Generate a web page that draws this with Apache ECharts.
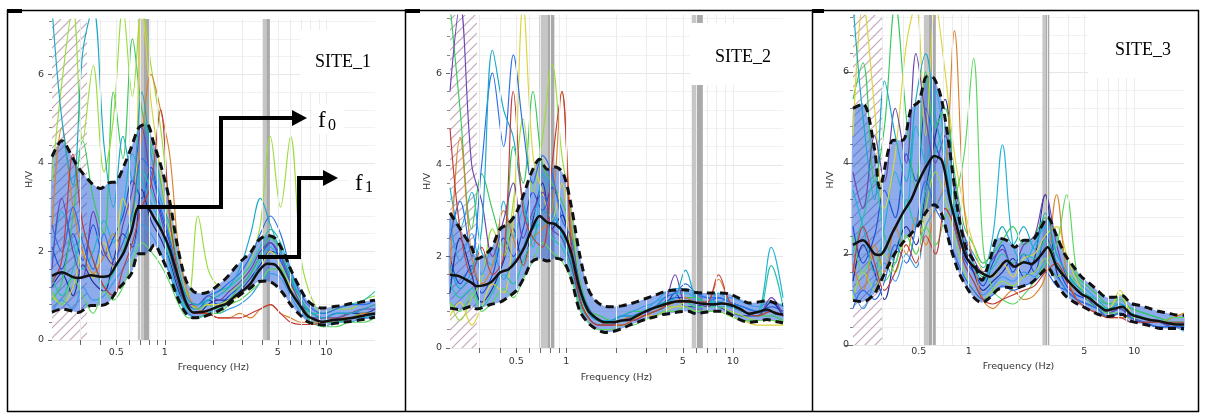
<!DOCTYPE html>
<html>
<head>
<meta charset="utf-8">
<script src="https://cdn.jsdelivr.net/npm/echarts@6/dist/echarts.min.js"></script>
<style>
  html, body { margin: 0; padding: 0; background: #fff; }
  #chart { width: 1205px; height: 414px; }
</style>
</head>
<body>
<div id="chart"></div>
<script>
// frequencies (Hz) for the mean and +/- std curves
const FREQ = [0.2,0.23,0.27,0.29,0.35,0.4,0.45,0.5,0.56,0.62,0.69,0.77,0.86,0.96,1.07,1.2,1.35,1.5,1.7,1.9,2.15,2.4,2.7,3.0,3.4,3.8,4.3,4.8,5.4,6.0,6.8,7.6,8.5,9.5,11,12.5,14,16,18,20];
// frequencies (Hz) for the single-window curves
const FW = [0.2,0.23,0.27,0.31,0.36,0.42,0.48,0.55,0.63,0.72,0.82,0.94,1.07,1.22,1.4,1.6,1.85,2.15,2.5,2.9,3.4,3.9,4.5,5.2,6,7,8.2,9.6,11.5,14,17,20];

const X_TICKS = [0.3,0.4,0.5,0.6,0.7,0.8,0.9,1,2,3,4,5,6,7,8,9,10];
const X_LABELS = [0.5,1,5,10];
const Y_LABELS = [0,2,4,6];
const GRID_F = [0.3,0.4,0.5,0.6,0.7,0.8,0.9,1,2,3,4,5,6,7,8,9,10];

// SITE_1
const site1Mean  = [1.45,1.53,1.42,1.4,1.46,1.43,1.45,1.7,2.0,2.45,3.0,3.0,2.75,2.45,2.05,1.45,0.85,0.62,0.63,0.68,0.76,0.82,0.98,1.1,1.28,1.55,1.72,1.7,1.45,1.1,0.8,0.55,0.46,0.41,0.45,0.47,0.49,0.53,0.57,0.6];
const site1Upper = [4.14,4.5,4.1,3.9,3.55,3.42,3.55,3.58,3.95,4.35,4.8,4.88,4.4,3.85,3.15,2.1,1.35,1.1,1.05,1.1,1.25,1.4,1.62,1.8,1.98,2.25,2.36,2.3,2.0,1.6,1.2,0.9,0.76,0.72,0.75,0.78,0.82,0.85,0.88,0.9];
const site1Lower = [0.63,0.7,0.65,0.62,0.78,0.78,0.85,1.1,1.3,1.5,1.95,1.95,2.15,1.85,1.45,0.95,0.6,0.5,0.52,0.58,0.66,0.76,0.92,1.05,1.18,1.32,1.33,1.25,1.05,0.8,0.58,0.42,0.36,0.34,0.37,0.4,0.42,0.45,0.48,0.52];
const site1Windows = [
  [2.1,1.6,2.4,1.8,2.6,1.9,2.3,2.8,3.6,3.2,3.9,2.9,2.2,1.3,0.8,0.7,0.9,0.8,1.0,1.2,1.5,1.9,2.2,1.8,1.3,0.8,0.6,0.5,0.6,0.6,0.7,0.8],
  [1.2,1.5,1.0,1.7,1.3,1.1,1.8,2.4,2.1,3.4,2.7,2.3,1.8,1.1,0.7,0.6,0.8,0.9,0.9,1.1,1.4,1.7,2.0,1.9,1.4,0.9,0.6,0.5,0.5,0.6,0.6,0.7],
  [1.8,2.9,2.2,1.6,2.0,2.7,2.2,3.0,4.2,3.6,3.1,2.6,1.7,1.0,0.6,0.5,0.6,0.8,0.9,1.0,1.3,1.8,2.1,1.7,1.1,0.7,0.5,0.4,0.4,0.5,0.5,0.6],
  [0.9,1.3,2.8,4.5,3.2,2.4,5.6,4.1,6.8,5.2,4.4,3.6,2.4,1.3,0.9,0.7,0.8,0.7,0.9,1.2,1.5,1.9,2.3,2.0,1.3,0.8,0.5,0.4,0.4,0.5,0.6,0.6],
  [3.6,5.8,7.5,4.5,6.2,3.8,5.0,7.5,5.5,7.5,6.2,4.8,3.0,1.6,1.0,2.8,1.6,1.2,1.1,1.3,1.8,2.6,4.6,3.0,4.6,1.8,0.9,0.6,0.7,0.7,0.9,1.0],
  [1.0,0.8,1.2,2.0,1.4,2.2,1.6,3.2,2.6,7.5,5.4,3.8,2.5,1.6,0.9,0.7,0.8,0.8,0.9,1.0,1.3,1.6,2.0,1.7,1.2,0.9,0.6,0.5,0.5,0.6,0.7,0.8],
  [2.5,4.8,3.0,2.0,1.5,1.9,2.4,2.0,3.0,4.6,6.0,5.2,4.2,2.0,1.0,0.7,0.6,0.5,0.5,0.6,0.5,0.7,0.8,0.6,0.5,0.4,0.4,0.4,0.5,0.5,0.6,0.6],
  [1.4,1.0,1.6,2.4,1.8,1.2,1.5,2.0,2.8,3.8,3.4,2.6,1.9,1.2,0.7,0.7,0.9,1.1,1.2,1.4,1.7,2.1,2.5,2.2,1.5,0.9,0.6,0.6,0.7,0.8,0.9,1.1],
  [0.6,0.9,0.7,1.2,0.9,1.0,1.3,1.6,2.0,2.6,2.4,2.0,1.5,0.9,0.6,0.5,0.6,0.6,0.7,0.8,1.0,1.3,1.5,1.4,1.0,0.6,0.4,0.3,0.4,0.4,0.5,0.5],
  [1.6,3.2,2.0,1.4,2.9,2.0,1.7,2.6,3.4,4.8,3.6,2.8,2.0,1.2,0.8,0.8,1.0,0.9,1.1,1.3,1.6,2.0,2.2,1.9,1.3,0.8,0.5,0.5,0.5,0.6,0.7,0.7],
  [1.1,0.8,1.4,1.0,0.6,1.1,0.9,1.2,1.8,2.2,2.0,1.7,1.3,0.8,0.5,0.5,0.6,0.6,0.8,0.9,1.1,1.3,1.6,1.6,1.1,0.7,0.4,0.3,0.3,0.4,0.4,0.5],
  [2.6,2.0,3.0,2.2,1.6,2.4,1.8,2.2,2.9,4.1,3.8,3.0,2.3,1.4,0.9,0.8,1.0,1.1,1.3,1.5,1.9,2.4,2.8,2.4,1.6,1.0,0.7,0.6,0.7,0.8,0.8,0.9],
  [7.5,5.0,3.5,6.5,7.5,4.4,3.0,4.6,3.6,5.6,4.2,3.2,2.6,1.6,0.9,0.8,0.9,1.0,1.2,1.6,2.4,3.2,2.6,2.0,1.4,0.9,0.6,0.5,0.6,0.6,0.7,0.8],
  [1.3,1.8,4.2,2.6,1.8,1.2,1.0,1.6,2.2,3.0,3.5,5.2,2.8,1.4,0.7,0.6,0.6,0.5,0.5,0.5,0.6,0.7,0.8,0.6,0.4,0.35,0.35,0.4,0.45,0.5,0.55,0.6]
];
const site1Bands = [[0.68,0.74],[0.74,0.81],[4.04,4.25],[4.25,4.47]];
const site1HatchTo = 0.33;

// SITE_2
const site2Mean  = [1.6,1.56,1.42,1.35,1.43,1.65,1.72,1.9,2.2,2.6,2.88,2.74,2.7,2.52,2.07,1.3,0.82,0.66,0.56,0.56,0.6,0.62,0.72,0.8,0.88,0.94,1.0,1.02,1.02,0.99,0.96,0.95,0.97,0.95,0.86,0.75,0.78,0.84,0.76,0.73];
const site2Upper = [2.95,2.6,2.2,1.95,2.15,2.6,2.72,2.95,3.4,3.85,4.12,3.9,3.95,3.8,3.1,2.05,1.3,1.03,0.91,0.9,0.92,0.96,1.02,1.08,1.15,1.22,1.26,1.27,1.26,1.21,1.2,1.2,1.2,1.18,1.08,0.98,1.0,1.03,0.98,0.95];
const site2Lower = [0.87,0.84,0.91,0.85,0.95,1.0,1.12,1.25,1.55,1.88,1.95,1.9,1.96,1.9,1.5,0.82,0.55,0.42,0.34,0.36,0.42,0.5,0.57,0.63,0.68,0.73,0.76,0.79,0.8,0.75,0.78,0.8,0.8,0.75,0.62,0.56,0.58,0.62,0.58,0.55];
const site2Windows = [
  [2.0,1.4,1.8,1.2,1.6,2.4,2.0,2.6,3.4,3.0,3.5,3.0,2.3,1.2,0.7,0.6,0.5,0.6,0.7,0.8,0.9,1.0,1.1,1.1,1.0,1.0,1.1,1.0,0.9,0.8,0.9,0.8],
  [1.2,2.4,1.6,1.0,1.3,1.9,2.6,1.8,2.8,3.6,2.6,2.9,1.9,1.0,0.6,0.5,0.5,0.6,0.6,0.7,0.8,0.9,1.2,0.9,0.9,1.0,0.9,0.8,0.7,0.7,1.0,0.7],
  [3.5,2.6,3.4,2.1,1.8,3.2,2.4,3.0,2.2,3.8,3.2,2.4,1.8,1.1,0.7,0.6,0.6,0.7,0.7,0.8,1.0,1.1,1.2,1.2,1.1,1.0,1.2,1.0,0.9,0.8,2.2,1.1],
  [7.5,5.2,2.6,3.8,3.0,2.2,4.4,3.6,5.6,4.0,3.6,3.2,2.6,1.4,0.8,0.7,0.6,0.7,0.8,0.8,0.9,1.0,1.0,1.1,1.1,1.0,1.0,0.9,0.8,0.7,0.7,0.6],
  [1.0,0.6,1.1,1.5,2.6,2.0,3.2,5.0,3.4,4.6,6.2,4.2,3.0,1.3,0.8,0.6,0.5,0.6,0.6,0.7,0.8,0.9,0.9,1.0,0.9,0.9,0.9,0.8,0.7,0.6,0.6,0.5],
  [0.7,1.0,0.5,0.9,1.4,1.2,2.8,7.5,4.2,3.4,2.8,3.6,2.0,1.1,0.6,0.5,0.5,0.5,0.6,0.7,0.7,0.8,0.9,0.9,0.8,0.8,0.8,0.7,0.6,0.5,0.5,0.5],
  [1.6,4.6,2.0,1.4,1.8,3.0,2.4,1.8,2.4,2.6,3.0,5.6,2.6,1.0,0.6,0.5,0.5,0.6,0.7,0.7,0.8,0.9,1.0,1.1,1.0,1.0,1.5,1.0,0.8,0.7,0.8,0.7],
  [1.4,1.1,1.3,0.9,1.2,1.6,1.4,1.9,2.4,2.8,2.4,2.2,1.7,0.9,0.6,0.5,0.5,0.6,0.6,0.7,0.8,0.9,1.0,1.0,0.9,0.9,0.9,0.9,0.8,0.7,1.8,0.9],
  [2.8,1.9,2.5,1.6,2.2,1.5,1.9,2.2,2.9,3.3,2.9,2.6,2.1,1.2,0.7,0.6,0.6,0.7,0.8,0.9,1.0,1.2,1.3,1.3,1.2,1.1,1.0,1.1,1.0,0.9,1.0,0.9],
  [5.6,7.5,4.0,3.2,2.0,2.8,3.6,2.4,3.0,3.4,2.6,2.4,1.8,1.0,0.6,0.5,0.5,0.6,0.6,0.7,0.9,1.0,1.6,1.0,1.0,0.9,1.0,0.9,0.8,0.7,1.1,0.7],
  [1.0,0.8,1.2,0.8,1.0,1.3,1.1,1.5,1.9,2.3,2.1,1.9,1.5,0.8,0.5,0.4,0.4,0.5,0.5,0.6,0.7,0.8,0.8,0.9,0.8,0.8,0.8,0.7,0.6,0.6,0.6,0.6],
  [2.4,3.2,2.0,4.0,6.0,4.4,6.4,4.8,3.6,4.2,3.8,2.8,2.4,1.3,0.8,0.6,0.6,0.7,0.7,0.8,0.9,1.1,1.2,1.4,1.2,1.1,1.1,1.0,0.9,0.8,0.8,0.7],
  [1.8,1.3,1.7,2.6,6.5,5.2,4.6,3.2,2.6,3.0,2.8,2.5,1.9,1.1,0.7,0.6,0.6,0.7,0.7,0.8,0.9,1.0,1.1,1.7,1.1,1.0,1.0,0.9,0.8,0.7,0.8,0.7],
  [4.8,2.6,1.6,2.2,1.6,2.0,5.6,3.0,2.4,2.2,4.0,5.6,2.2,1.0,0.6,0.5,0.5,0.5,0.6,0.7,0.8,0.9,1.0,1.0,1.0,1.0,1.6,1.0,0.8,0.7,0.8,0.7]
];
const site2Bands = [[0.687,0.77],[0.77,0.847],[5.66,6.07],[6.07,6.6]];
const site2HatchTo = 0.29;

// SITE_3
const site3Mean  = [2.2,2.3,2.0,1.98,2.5,2.9,3.2,3.6,3.95,4.15,4.05,3.2,2.52,1.95,1.72,1.58,1.5,1.65,1.85,1.72,1.82,1.78,1.95,2.15,1.72,1.5,1.28,1.12,1.02,0.88,0.76,0.8,0.84,0.68,0.6,0.55,0.53,0.48,0.45,0.45];
const site3Upper = [5.2,5.3,4.3,3.45,4.5,4.5,5.2,5.35,5.9,5.85,5.35,4.25,2.95,2.15,1.85,1.42,1.9,2.35,2.3,2.15,2.3,2.3,2.55,2.8,2.4,2.0,1.72,1.5,1.35,1.2,1.05,1.05,1.08,0.92,0.86,0.8,0.74,0.7,0.66,0.65];
const site3Lower = [0.98,0.95,1.13,1.35,1.95,2.25,2.45,2.65,2.95,3.08,2.85,2.2,1.65,1.3,1.05,0.93,1.05,1.22,1.27,1.25,1.3,1.37,1.55,1.7,1.35,1.1,0.95,0.86,0.76,0.68,0.62,0.65,0.67,0.53,0.47,0.42,0.37,0.36,0.36,0.36];
const site3Windows = [
  [2.6,1.8,2.4,3.4,2.8,4.2,3.6,5.2,4.4,3.8,2.6,1.9,1.6,1.3,1.8,2.2,1.6,2.0,1.6,2.4,1.8,1.3,1.1,1.0,0.8,0.7,0.8,0.6,0.5,0.5,0.4,0.4],
  [1.4,2.2,1.6,1.0,2.0,2.6,2.2,3.4,4.6,5.4,3.4,2.2,1.6,1.2,1.4,1.6,1.9,1.5,1.9,3.3,1.6,1.2,1.0,0.9,0.8,0.6,0.7,0.6,0.5,0.4,0.4,0.4],
  [3.4,2.6,1.6,2.6,3.8,3.0,4.8,4.0,5.6,4.4,3.0,2.4,2.0,1.7,2.4,4.4,2.2,1.8,2.2,2.6,2.0,1.6,1.4,1.2,1.0,0.9,0.9,0.8,0.7,0.6,0.5,0.5],
  [5.4,6.2,3.6,4.8,7.5,5.0,3.4,6.0,4.8,5.2,3.8,2.6,2.2,1.8,2.0,2.3,2.6,2.2,2.4,2.8,2.4,1.9,1.5,1.3,1.1,0.9,1.0,0.8,0.7,0.6,0.5,0.5],
  [1.0,1.6,1.2,2.0,1.6,2.4,2.0,3.0,3.8,3.2,2.4,1.6,1.2,1.0,1.2,1.4,1.3,1.5,1.6,1.9,1.5,1.6,1.3,1.1,0.9,0.8,1.1,0.7,0.6,0.5,0.5,0.4],
  [4.6,7.5,5.2,3.0,4.2,6.6,7.5,4.6,7.5,6.0,4.2,3.0,2.2,1.6,1.5,1.8,1.5,1.9,2.0,2.4,2.6,2.0,1.4,1.1,1.0,0.8,1.2,0.7,0.6,0.5,0.5,0.5],
  [1.8,1.2,2.2,1.6,2.6,2.0,2.8,2.2,3.0,3.6,6.9,3.0,1.8,1.0,0.8,1.0,1.2,1.0,1.1,1.5,3.3,1.6,1.0,0.8,0.7,0.6,0.6,0.6,0.5,0.5,0.6,0.7],
  [2.0,2.8,3.6,2.4,1.8,3.2,2.6,3.4,4.2,4.8,3.2,2.3,1.8,1.5,1.7,2.0,1.8,2.0,1.9,2.3,1.8,1.5,1.3,1.1,0.9,0.8,0.8,0.7,0.6,0.5,0.5,0.4],
  [1.2,0.8,1.4,1.8,1.4,2.0,1.7,2.6,3.0,3.4,2.6,1.8,1.4,1.1,1.3,1.5,1.4,1.6,1.5,1.8,1.5,1.2,1.0,0.9,0.8,0.6,0.7,0.5,0.5,0.4,0.4,0.3],
  [3.8,3.0,4.6,3.6,5.2,4.0,6.4,5.0,4.0,4.6,3.6,2.4,1.9,1.6,1.9,2.1,1.7,2.2,2.4,3.3,2.2,1.5,1.2,1.0,0.9,0.7,0.8,0.6,0.5,0.5,0.4,0.4],
  [2.4,1.6,2.0,1.4,1.8,2.4,2.0,2.6,2.2,2.8,3.2,4.2,6.3,2.2,1.2,1.0,0.9,1.1,1.4,1.8,2.2,3.3,1.6,1.0,0.8,0.7,0.7,0.6,0.6,0.5,0.6,0.6],
  [0.8,1.2,1.0,1.4,2.2,1.8,2.6,3.6,3.0,2.6,2.0,1.5,1.2,1.0,1.1,1.3,1.2,1.3,1.4,1.6,1.3,1.2,1.0,0.9,0.8,0.6,0.7,0.6,0.5,0.4,0.4,0.4],
  [7.5,5.0,3.2,5.8,4.6,3.6,5.4,6.4,5.0,4.0,2.8,2.0,1.7,1.4,2.0,2.6,2.2,2.6,2.1,2.9,2.0,1.6,1.3,1.1,1.0,0.8,0.9,0.7,0.6,0.5,0.5,0.5],
  [1.6,2.6,1.8,1.2,1.6,2.2,1.8,2.4,2.0,3.0,2.6,1.8,1.4,1.0,0.9,1.0,1.1,1.2,1.3,1.6,1.8,1.4,1.0,0.8,0.7,0.6,0.6,0.5,0.5,0.5,0.5,0.5]
];
const site3Bands = [[0.536,0.574],[0.574,0.633],[2.79,2.93],[2.93,3.07]];
const site3HatchTo = 0.3;

const PANELS = [
  { mean: site1Mean, upper: site1Upper, lower: site1Lower, windows: site1Windows, bands: site1Bands, hatchTo: site1HatchTo },
  { mean: site2Mean, upper: site2Upper, lower: site2Lower, windows: site2Windows, bands: site2Bands, hatchTo: site2HatchTo },
  { mean: site3Mean, upper: site3Upper, lower: site3Lower, windows: site3Windows, bands: site3Bands, hatchTo: site3HatchTo }
];

// pixel layout of the three plots
const LAYOUT = [
  { left: 52,  top: 19, width: 323, height: 321, ymax: 7.25, xInside: false, xMargin: 8, xNameGap: 23, yTick: 4, yMargin: 8 },
  { left: 450, top: 15, width: 333, height: 333, ymax: 7.27, xInside: false, xMargin: 9, xNameGap: 25, yTick: 4, yMargin: 8 },
  { left: 853, top: 15, width: 331, height: 330, ymax: 7.25, xInside: true,  xMargin: 2, xNameGap: 15, yTick: 8, yMargin: 4 }
];

const PALETTE = ['#1d4fd6','#1f2f96','#1fb2d4','#38c95a','#9bdc3c','#dcd43a','#d9832c','#24c2a6','#3a9be8','#6a44b0','#5cd65e','#2c6ee8','#18a8c8','#c23b3b'];
const FONT = 'DejaVu Sans';

function hatchTile() {
  const c = document.createElement('canvas');
  c.width = 10; c.height = 10;
  const g = c.getContext('2d');
  g.strokeStyle = '#c4a6ba';
  g.lineWidth = 1.2;
  g.beginPath();
  g.moveTo(0, 10); g.lineTo(10, 0);
  g.moveTo(-5, 5); g.lineTo(5, -5);
  g.moveTo(5, 15); g.lineTo(15, 5);
  g.stroke();
  return c;
}
const HATCH = hatchTile();

const pairs = (fs, vs) => fs.map((f, k) => [f, vs[k]]);

const grids = [], xAxes = [], yAxes = [], series = [];

PANELS.forEach((p, i) => {
  const L = LAYOUT[i];
  grids.push({ left: L.left, top: L.top, width: L.width, height: L.height, outerBoundsMode: 'none' });
  xAxes.push({
    gridIndex: i, type: 'log', logBase: 10, min: 0.2, max: 20,
    axisLine: { show: false },
    axisTick: { show: true, inside: L.xInside, length: 5, customValues: X_TICKS, lineStyle: { color: '#666' } },
    axisLabel: { customValues: X_LABELS, margin: L.xMargin, fontSize: 9.5, color: '#333', fontFamily: FONT, formatter: v => String(v) },
    splitLine: { show: false },
    name: 'Frequency (Hz)', nameLocation: 'middle', nameGap: L.xNameGap,
    nameTextStyle: { fontSize: 9.5, color: '#333', fontFamily: FONT }
  });
  yAxes.push({
    gridIndex: i, type: 'value', min: 0, max: L.ymax, interval: 2,
    axisLine: { show: false },
    axisTick: { show: true, length: L.yTick, customValues: Y_LABELS, lineStyle: { color: '#666' } },
    minorTick: { show: true, splitNumber: 5, length: 3, lineStyle: { color: '#888' } },
    axisLabel: { customValues: Y_LABELS, margin: L.yMargin, fontSize: 9.5, color: '#333', fontFamily: FONT },
    splitLine: { show: true, lineStyle: { color: '#e6e6e6' } },
    minorSplitLine: { show: true, lineStyle: { color: '#f1f1f1' } },
    name: 'H/V', nameLocation: 'middle', nameGap: 17,
    nameTextStyle: { fontSize: 9.5, color: '#333', fontFamily: FONT }
  });

  const ax = { xAxisIndex: i, yAxisIndex: i };
  // grid lines, hatched low-frequency zone, peak bands
  series.push({
    ...ax, type: 'line', z: 1, silent: true, data: [[FREQ[0], 0]], showSymbol: false, lineStyle: { opacity: 0 },
    markLine: {
      silent: true, symbol: 'none', label: { show: false }, animation: false,
      lineStyle: { color: '#ececec', width: 1, type: 'solid' },
      data: GRID_F.map(f => ({ xAxis: f }))
    },
    markArea: {
      silent: true, animation: false,
      data: [[{ xAxis: 0.2, itemStyle: { color: { image: HATCH, repeat: 'repeat' } } }, { xAxis: p.hatchTo }]]
        .concat(p.bands.map((b, k) => [{ xAxis: b[0], itemStyle: { color: k % 2 ? '#a9a9a9' : '#c6c6c6' } }, { xAxis: b[1] }]))
    }
  });
  // +/- std envelope, standing in for the dense cloud of windows
  series.push({
    ...ax, type: 'custom', z: 2, silent: true, data: [[FREQ[0], p.lower[0]]],
    renderItem: (params, api) => {
      const top = FREQ.map((f, k) => api.coord([f, p.upper[k]]));
      const bottom = FREQ.map((f, k) => api.coord([f, p.lower[k]])).reverse();
      return { type: 'polygon', shape: { points: top.concat(bottom), smooth: 0.2 },
        style: { fill: 'rgba(30,88,215,0.5)' } };
    }
  });
  // single windows
  p.windows.forEach((w, k) => series.push({
    ...ax, type: 'line', z: 3, silent: true, smooth: 0.35, showSymbol: false,
    lineStyle: { width: 1.15, color: PALETTE[k % PALETTE.length] }, data: pairs(FW, w)
  }));
  // average and +/- std
  series.push({ ...ax, type: 'line', z: 5, silent: true, smooth: 0.3, showSymbol: false,
    lineStyle: { width: 2.5, color: '#111' }, data: pairs(FREQ, p.mean) });
  [p.upper, p.lower].forEach(v => series.push({ ...ax, type: 'line', z: 5, silent: true, smooth: 0.3, showSymbol: false,
    lineStyle: { width: 3, color: '#111', type: [8, 5] }, data: pairs(FREQ, v) }));
});

// annotations, label boxes and the table frame
const line = (x1, y1, x2, y2) => ({ type: 'line', z: 100, silent: true, shape: { x1, y1, x2, y2 }, style: { stroke: '#000', lineWidth: 1.5 } });
const white = (x, y, w, h) => ({ type: 'rect', z: 90, silent: true, shape: { x, y, width: w, height: h }, style: { fill: '#fff' } });
const txt = (x, y, s, size) => ({ type: 'text', z: 101, silent: true, x, y,
  style: { text: s, fill: '#000', fontSize: size, fontFamily: 'Liberation Serif', verticalAlign: 'middle' } });

const graphic = [
  white(300, 30, 76, 62), white(312, 104, 32, 30), white(348, 166, 28, 32),
  white(690, 23, 104, 62), white(1088, 14, 104, 64),
  txt(315, 62, 'SITE_1', 18), txt(715, 57, 'SITE_2', 18), txt(1115, 50, 'SITE_3', 18),
  txt(318, 121, 'f', 23), txt(328, 125.5, '0', 16),
  txt(355, 184, 'f', 23), txt(365, 188, '1', 16),
  { type: 'polyline', z: 100, silent: true, shape: { points: [[137, 207], [221, 207], [221, 118], [294, 118]] },
    style: { stroke: '#000', lineWidth: 4, fill: null, lineJoin: 'miter' } },
  { type: 'polygon', z: 100, silent: true, shape: { points: [[292, 110], [307, 118], [292, 126]] }, style: { fill: '#000' } },
  { type: 'polyline', z: 100, silent: true, shape: { points: [[258, 257], [299, 257], [299, 178], [325, 178]] },
    style: { stroke: '#000', lineWidth: 4, fill: null, lineJoin: 'miter' } },
  { type: 'polygon', z: 100, silent: true, shape: { points: [[323, 170], [338, 178], [323, 186]] }, style: { fill: '#000' } },
  line(7, 10.5, 1199, 10.5), line(7, 411.5, 1199, 411.5),
  line(7.5, 10, 7.5, 412), line(405.5, 10, 405.5, 412), line(812.5, 10, 812.5, 412), line(1198.5, 10, 1198.5, 412),
  { type: 'rect', z: 100, silent: true, shape: { x: 7, y: 9, width: 15, height: 4 }, style: { fill: '#000' } },
  { type: 'rect', z: 100, silent: true, shape: { x: 405, y: 9, width: 15, height: 4 }, style: { fill: '#000' } },
  { type: 'rect', z: 100, silent: true, shape: { x: 812, y: 9, width: 12, height: 4 }, style: { fill: '#000' } }
];

const chart = echarts.init(document.getElementById('chart'), null, { renderer: 'canvas' });
chart.setOption({
  animation: false,
  backgroundColor: '#fff',
  textStyle: { fontFamily: FONT },
  grid: grids,
  xAxis: xAxes,
  yAxis: yAxes,
  series: series,
  graphic: graphic
});
</script>
</body>
</html>
